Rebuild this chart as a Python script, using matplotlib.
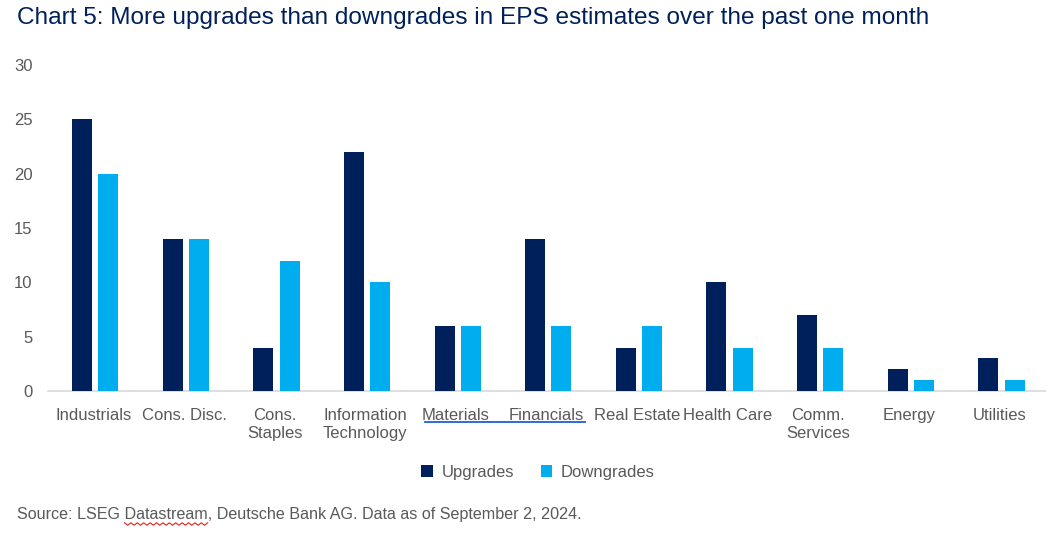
import matplotlib
matplotlib.use("Agg")
import matplotlib.pyplot as plt
import numpy as np
from matplotlib.lines import Line2D

categories = ["Industrials", "Cons. Disc.", "Cons.\nStaples", "Information\nTechnology", "Materials",
              "Financials", "Real Estate", "Health Care", "Comm.\nServices", "Energy", "Utilities"]
upgrades = [25, 14, 4, 22, 6, 14, 4, 10, 7, 2, 3]
downgrades = [20, 14, 12, 10, 6, 6, 6, 4, 4, 1, 1]
yticks = [0, 5, 10, 15, 20, 25, 30]

navy = "#00205B"
cyan = "#00AEEF"
gray = "#595959"

plt.rcParams['font.family'] = ['Liberation Sans', 'DejaVu Sans']

fig = plt.figure(figsize=(10.51, 5.41), dpi=100)
ax = fig.add_axes([48/1051, (541-391)/541, (1045-48)/1051, (391-65)/541])

x = np.arange(len(categories))
w = 0.22
gap = 0.035
ax.bar(x - w/2 - gap + 0.02, upgrades, width=w, color=navy, label="Upgrades", zorder=3)
ax.bar(x + w/2 + gap + 0.02, downgrades, width=w, color=cyan, label="Downgrades", zorder=3)

ax.set_xlim(-0.5, len(categories) - 0.5)
ax.set_ylim(0, 30)
ax.set_yticks(yticks)
ax.set_xticks(x)
ax.set_xticklabels(categories, fontsize=12, color=gray, linespacing=1.25, va='top')
ax.tick_params(axis='y', labelsize=12, colors=gray, length=0, pad=11)
ax.tick_params(axis='x', length=0, pad=12, colors=gray)
for s in ['top', 'right', 'left']:
    ax.spines[s].set_visible(False)
ax.spines['bottom'].set_color('#D9D9D9')
ax.spines['bottom'].set_linewidth(1.2)

fig.text(17/1051, 1 - 18/541, "Chart 5: More upgrades than downgrades in EPS estimates over the past one month",
         fontsize=17.6, color=navy, va='center', ha='left')

leg = fig.legend(loc='center', bbox_to_anchor=(538/1051, 1 - 472/541), ncol=2, frameon=False,
                 fontsize=12, handlelength=0.7, handleheight=0.7, columnspacing=1.6, handletextpad=0.5)
for t in leg.get_texts():
    t.set_color(gray)

src_pre = "Source: LSEG "
src_word = "Datastream"
src_full = src_pre + src_word + ", Deutsche Bank AG. Data as of September 2, 2024."
src = fig.text(17/1051, 1 - 515/541, src_full, fontsize=11.6, color=gray, va='center', ha='left')

# hyperlink-style underline under Materials / Financials
fig.add_artist(Line2D([425/1051, 585/1051], [1 - 422/541, 1 - 422/541], color="#1F5FD8", lw=1.3))

# spellcheck wavy underline under "Datastream" (positioned from measured text extents)
fig.canvas.draw()
r = fig.canvas.get_renderer()
tmp1 = fig.text(17/1051, 0, src_pre.rstrip() + " ", fontsize=11.6)
tmp2 = fig.text(17/1051, 0, src_pre + src_word, fontsize=11.6)
x0 = tmp1.get_window_extent(r).x1
x1 = tmp2.get_window_extent(r).x1
tmp1.remove(); tmp2.remove()
n = 27
xs = np.linspace(x0, x1, n)
ys = 524 + np.where(np.arange(n) % 2 == 0, -1.2, 1.2)
fig.add_artist(Line2D(xs/1051, 1 - ys/541, color="#E02020", lw=0.8))

fig.savefig("out.png", dpi=100, facecolor="white")
